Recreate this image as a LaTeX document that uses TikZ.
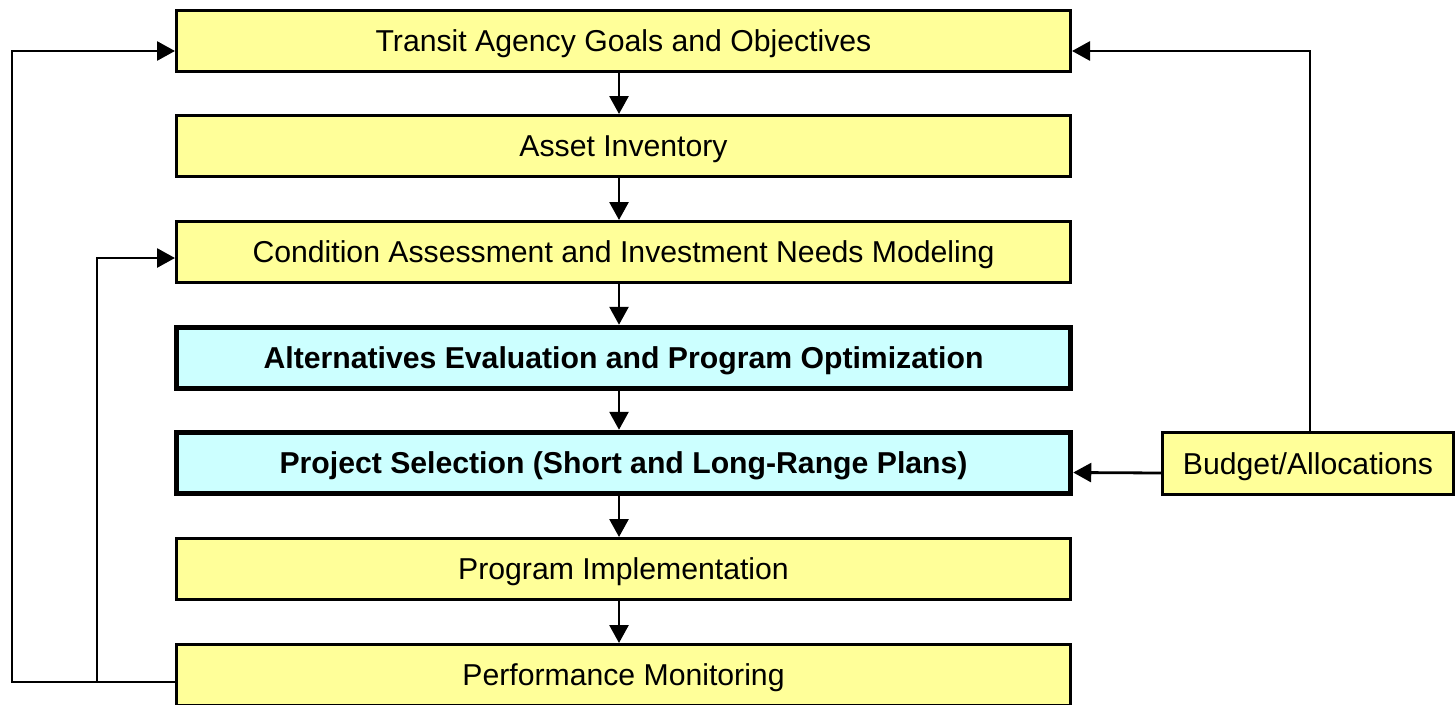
\documentclass[tikz,border=0pt]{standalone}
\usepackage{fontspec}
\setmainfont{Liberation Sans}
\usetikzlibrary{arrows.meta}
\definecolor{boxyellow}{HTML}{FFFF99}
\definecolor{boxcyan}{HTML}{CCFFFF}
\begin{document}
\begin{tikzpicture}[x=1pt,y=-1pt,
  stage/.style={draw, fill=boxyellow, line width=3pt, minimum width=894pt, minimum height=61pt, inner sep=0pt, text height=21.5pt, text depth=0pt, font=\fontsize{30.2}{36}\selectfont, anchor=center},
  keystage/.style={stage, fill=boxcyan, line width=5.5pt, font=\fontsize{30.2}{36}\selectfont\bfseries},
  conn/.style={line width=2.8pt, -{Triangle[length=18pt,width=19pt]}}]
\useasboundingbox (0,0) rectangle (1455,704);
\node[stage] (goals) at (623.5,41) {Transit Agency Goals and Objectives};
\node[stage] (inventory) at (623.5,146) {Asset Inventory};
\node[stage] (condition) at (623.5,252) {Condition Assessment and Investment Needs Modeling};
\node[keystage] (alternatives) at (623.5,358) {Alternatives Evaluation and Program Optimization};
\node[keystage] (selection) at (623.5,463) {Project Selection (Short and Long-Range Plans)};
\node[stage] (implementation) at (623.5,569) {Program Implementation};
\node[stage] (monitoring) at (623.5,675) {Performance Monitoring};
\node[stage, minimum width=291pt, minimum height=62pt] (budget) at (1308,463.5) {Budget/Allocations};
\foreach \a/\b in {goals/inventory, inventory/condition, condition/alternatives, alternatives/selection, selection/implementation, implementation/monitoring}
  \draw[conn] ([xshift=-4.5pt]\a.south) -- ([xshift=-4.5pt]\b.north);
\coordinate (fbL) at (12,682);
\coordinate (fbM) at (97,682);
\draw[conn] (monitoring.west |- fbL) -- (fbL) |- ([yshift=-10pt]goals.west);
\draw[conn] (fbM) |- ([yshift=-6pt]condition.west);
\draw[conn] ([xshift=2pt]budget.north) |- ([yshift=-10pt]goals.east);
\draw[conn] ([yshift=-9.5pt]budget.west) -- ([yshift=-9.5pt]selection.east);
\end{tikzpicture}
\end{document}
